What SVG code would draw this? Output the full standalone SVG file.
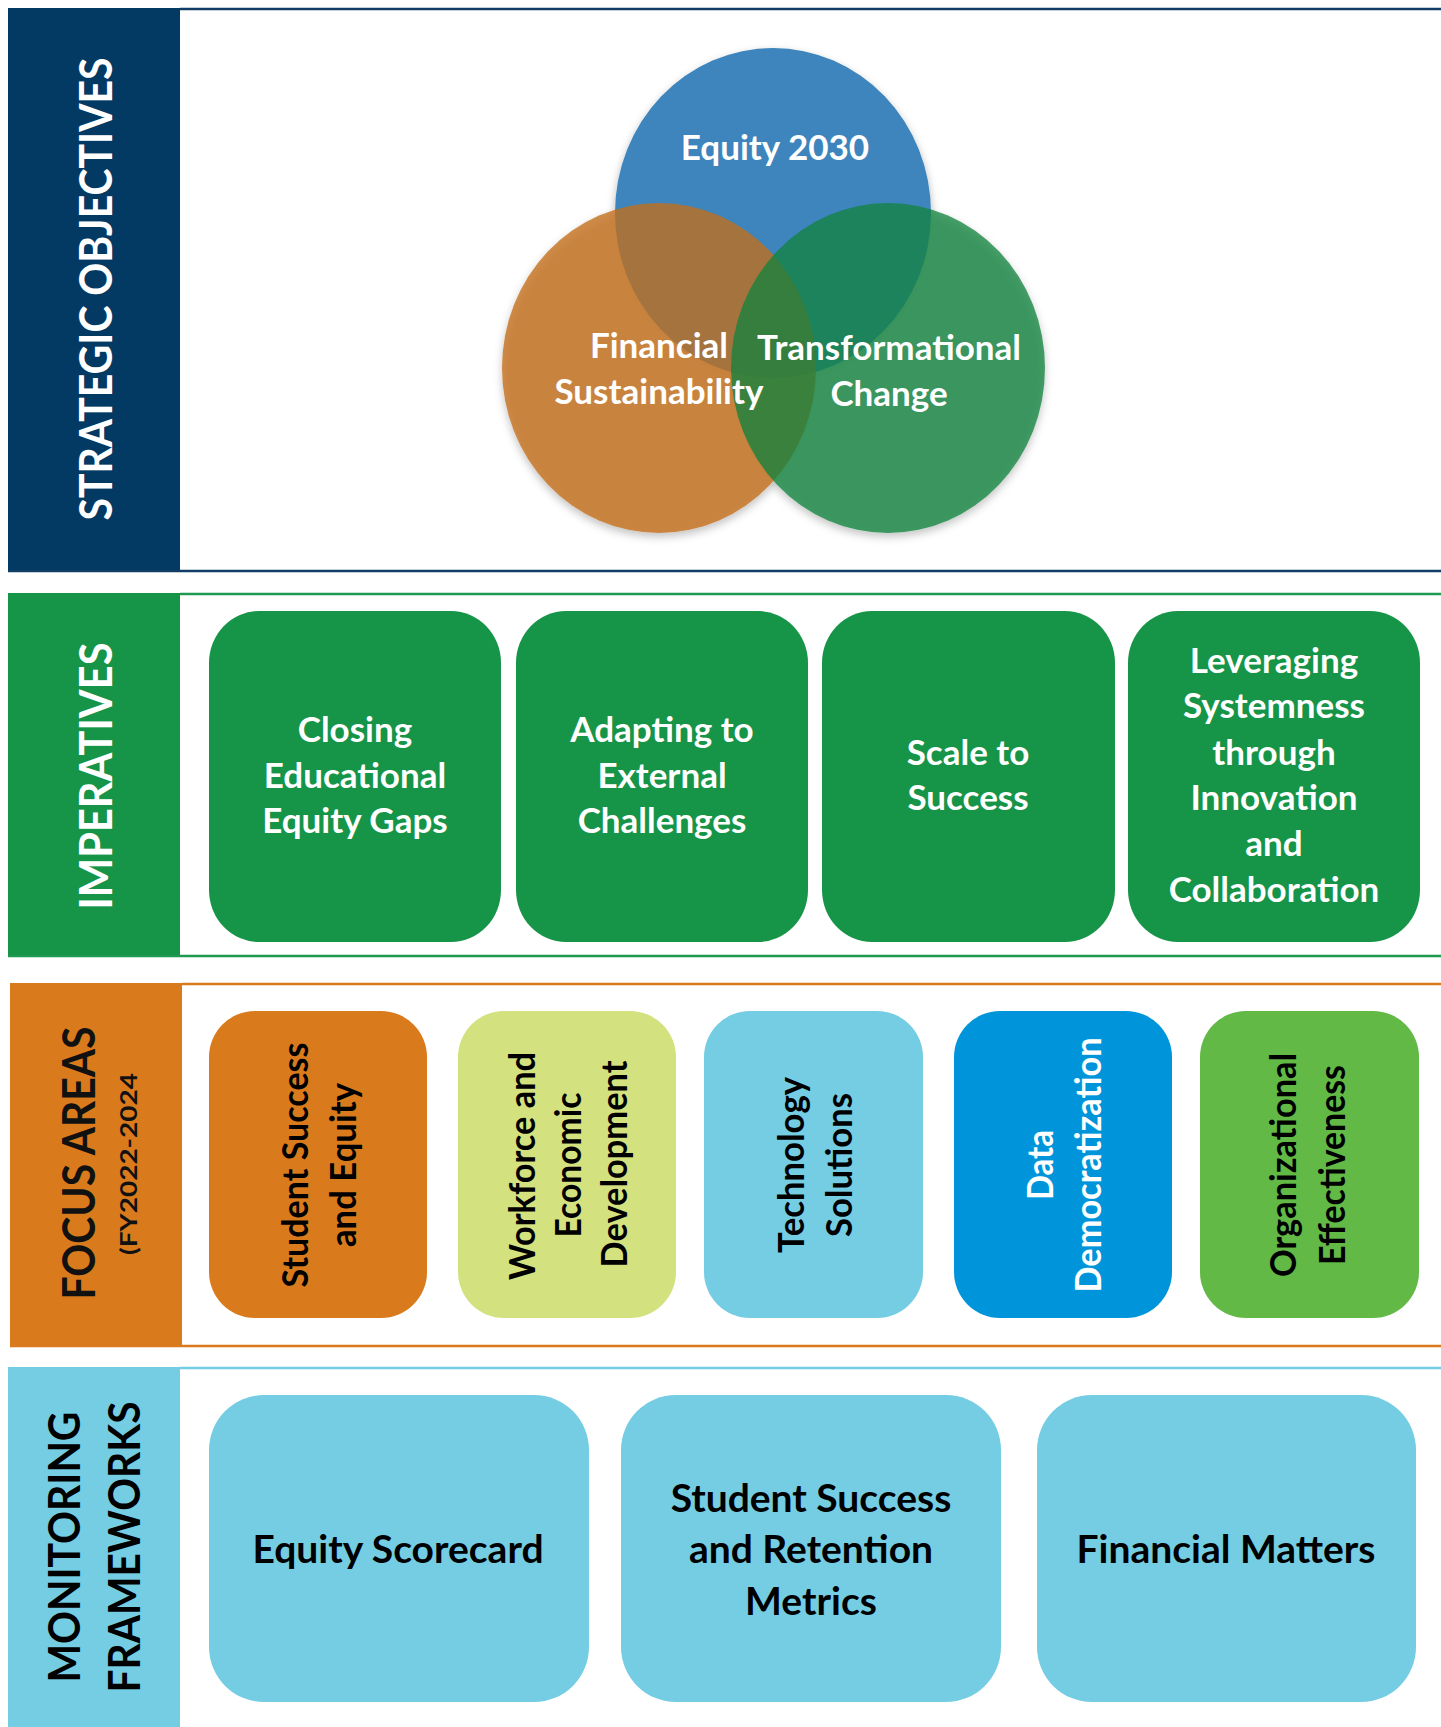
<svg xmlns="http://www.w3.org/2000/svg" width="1441" height="1727" viewBox="0 0 1441 1727">
  <defs>
    <filter id="shadow" x="-10%" y="-10%" width="120%" height="125%">
      <feDropShadow dx="0" dy="4" stdDeviation="4" flood-color="#000" flood-opacity="0.3"/>
    </filter>
  </defs>
  <style>
    .t { font-family: Lato, "Open Sans", "Liberation Sans", sans-serif; font-weight: 700; text-anchor: middle; }
    .w { fill: #ffffff; }
    .k { fill: #000000; }
    .imp { font-size: 35px; }
    .cir { font-size: 35px; }
    .mon { font-size: 39px; }
    .foc { font-size: 36px; }
    .lab { font-size: 46px; }
    .sec-line { stroke-width: 2.5; fill: none; }
    .imp-box { fill: #169447; }
    .mon-box { fill: #74CDE3; }
  </style>

  <rect x="0" y="0" width="1441" height="1727" fill="#ffffff"/>

  <!-- Section 1: Strategic Objectives -->
  <g id="section-strategic">
    <rect x="8" y="8" width="172" height="563" fill="#033A63"/>
    <line class="sec-line" x1="180" y1="9" x2="1441" y2="9" stroke="#0F3D66"/>
    <line class="sec-line" x1="8" y1="571" x2="1441" y2="571" stroke="#0F3D66"/>
    <text class="t w lab" transform="translate(112,289) rotate(-90)" textLength="463" lengthAdjust="spacingAndGlyphs">STRATEGIC OBJECTIVES</text>
  </g>

  <g id="venn" filter="url(#shadow)">
    <ellipse id="circle-equity" cx="773" cy="213" rx="158" ry="165" fill="#3D85BC"/>
    <ellipse id="circle-financial" cx="659" cy="368" rx="157" ry="165" fill="#C36E1A" fill-opacity="0.78"/>
    <ellipse id="circle-transformational" cx="888" cy="368" rx="157" ry="165" fill="#11823C" fill-opacity="0.76"/>
  </g>
  <g id="node-equity2030">
    <text class="t w cir" x="775" y="160">Equity 2030</text>
  </g>
  <g id="node-financial">
    <text class="t w cir" x="659" y="358">Financial</text>
    <text class="t w cir" x="659" y="404">Sustainability</text>
  </g>
  <g id="node-transformational">
    <text class="t w cir" x="889" y="360">Transformational</text>
    <text class="t w cir" x="889" y="406">Change</text>
  </g>

  <!-- Section 2: Imperatives -->
  <g id="section-imperatives">
    <rect x="8" y="593" width="172" height="363" fill="#169447"/>
    <line class="sec-line" x1="180" y1="594" x2="1441" y2="594" stroke="#1E9A50"/>
    <line class="sec-line" x1="8" y1="956" x2="1441" y2="956" stroke="#1E9A50"/>
    <text class="t w lab" transform="translate(112,776) rotate(-90)" textLength="267" lengthAdjust="spacingAndGlyphs">IMPERATIVES</text>
  </g>
  <g id="imp-closing">
    <rect class="imp-box" x="209" y="611" width="292" height="331" rx="50" ry="52"/>
    <text class="t w imp" x="355" y="742">Closing</text>
    <text class="t w imp" x="355" y="788">Educational</text>
    <text class="t w imp" x="355" y="833">Equity Gaps</text>
  </g>
  <g id="imp-adapting">
    <rect class="imp-box" x="516" y="611" width="292" height="331" rx="50" ry="52"/>
    <text class="t w imp" x="662" y="742">Adapting to</text>
    <text class="t w imp" x="662" y="788">External</text>
    <text class="t w imp" x="662" y="833">Challenges</text>
  </g>
  <g id="imp-scale">
    <rect class="imp-box" x="822" y="611" width="293" height="331" rx="50" ry="52"/>
    <text class="t w imp" x="968" y="765">Scale to</text>
    <text class="t w imp" x="968" y="810">Success</text>
  </g>
  <g id="imp-leveraging">
    <rect class="imp-box" x="1128" y="611" width="292" height="331" rx="50" ry="52"/>
    <text class="t w imp" x="1274" y="673">Leveraging</text>
    <text class="t w imp" x="1274" y="718">Systemness</text>
    <text class="t w imp" x="1274" y="765">through</text>
    <text class="t w imp" x="1274" y="810">Innovation</text>
    <text class="t w imp" x="1274" y="856">and</text>
    <text class="t w imp" x="1274" y="902">Collaboration</text>
  </g>

  <!-- Section 3: Focus Areas -->
  <g id="section-focus">
    <rect x="10" y="983" width="172" height="363" fill="#D97B1C"/>
    <line class="sec-line" x1="182" y1="984" x2="1441" y2="984" stroke="#D97B1C"/>
    <line class="sec-line" x1="10" y1="1346" x2="1441" y2="1346" stroke="#D97B1C"/>
    <text class="t lab" fill="#111111" transform="translate(95,1163) rotate(-90)" textLength="273" lengthAdjust="spacingAndGlyphs">FOCUS AREAS</text>
    <text class="t" fill="#111111" font-size="23" font-weight="900" transform="translate(137,1164) rotate(-90)" textLength="182" lengthAdjust="spacingAndGlyphs">(FY2022-2024</text>
  </g>
  <g id="focus-student">
    <rect x="209" y="1011" width="218" height="307" rx="46" ry="46" fill="#D97B1C"/>
    <text class="t k foc" transform="translate(308,1165) rotate(-90)" textLength="245" lengthAdjust="spacingAndGlyphs">Student Success</text>
    <text class="t k foc" transform="translate(356,1165) rotate(-90)" textLength="164" lengthAdjust="spacingAndGlyphs">and Equity</text>
  </g>
  <g id="focus-workforce">
    <rect x="458" y="1011" width="218" height="307" rx="46" ry="46" fill="#D4E17F"/>
    <text class="t k foc" transform="translate(535,1166) rotate(-90)" textLength="228" lengthAdjust="spacingAndGlyphs">Workforce and</text>
    <text class="t k foc" transform="translate(581,1165) rotate(-90)" textLength="145" lengthAdjust="spacingAndGlyphs">Economic</text>
    <text class="t k foc" transform="translate(627,1164) rotate(-90)" textLength="207" lengthAdjust="spacingAndGlyphs">Development</text>
  </g>
  <g id="focus-technology">
    <rect x="704" y="1011" width="219" height="307" rx="46" ry="46" fill="#74CDE3"/>
    <text class="t k foc" transform="translate(804,1165) rotate(-90)" textLength="176" lengthAdjust="spacingAndGlyphs">Technology</text>
    <text class="t k foc" transform="translate(852,1165) rotate(-90)" textLength="144" lengthAdjust="spacingAndGlyphs">Solutions</text>
  </g>
  <g id="focus-data">
    <rect x="954" y="1011" width="218" height="307" rx="46" ry="46" fill="#0095DA"/>
    <text class="t w foc" transform="translate(1053,1165) rotate(-90)" textLength="70" lengthAdjust="spacingAndGlyphs">Data</text>
    <text class="t w foc" transform="translate(1101,1165) rotate(-90)" textLength="255" lengthAdjust="spacingAndGlyphs">Democratization</text>
  </g>
  <g id="focus-organizational">
    <rect x="1200" y="1011" width="219" height="307" rx="46" ry="46" fill="#62B946"/>
    <text class="t k foc" transform="translate(1296,1165) rotate(-90)" textLength="224" lengthAdjust="spacingAndGlyphs">Organizational</text>
    <text class="t k foc" transform="translate(1345,1165) rotate(-90)" textLength="200" lengthAdjust="spacingAndGlyphs">Effectiveness</text>
  </g>

  <!-- Section 4: Monitoring Frameworks -->
  <g id="section-monitoring">
    <rect x="8" y="1367" width="172" height="360" fill="#74CDE3"/>
    <line class="sec-line" x1="180" y1="1368" x2="1441" y2="1368" stroke="#74CDE3"/>
    <text class="t k" font-size="43" transform="translate(80,1547) rotate(-90)" textLength="271" lengthAdjust="spacingAndGlyphs">MONITORING</text>
    <text class="t k" font-size="43" transform="translate(140,1547) rotate(-90)" textLength="291" lengthAdjust="spacingAndGlyphs">FRAMEWORKS</text>
  </g>
  <g id="mon-equity">
    <rect class="mon-box" x="209" y="1395" width="380" height="307" rx="55" ry="55"/>
    <text class="t k mon" x="398" y="1563">Equity Scorecard</text>
  </g>
  <g id="mon-student">
    <rect class="mon-box" x="621" y="1395" width="380" height="307" rx="55" ry="55"/>
    <text class="t k mon" x="811" y="1512">Student Success</text>
    <text class="t k mon" x="811" y="1563">and Retention</text>
    <text class="t k mon" x="811" y="1615">Metrics</text>
  </g>
  <g id="mon-financial">
    <rect class="mon-box" x="1037" y="1395" width="379" height="307" rx="55" ry="55"/>
    <text class="t k mon" x="1226" y="1563">Financial Matters</text>
  </g>

  <g id="connectors"></g>
</svg>
